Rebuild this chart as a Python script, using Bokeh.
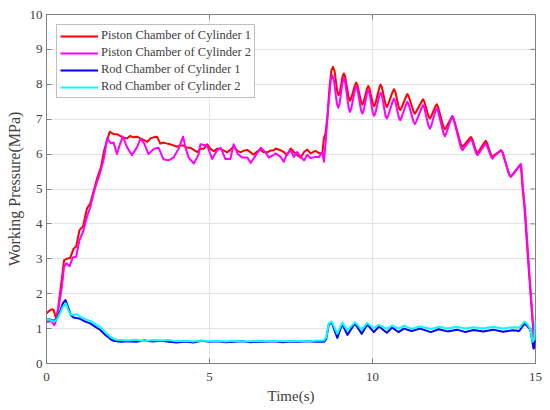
import math
from bokeh.plotting import figure
from bokeh.models import Range1d, FixedTicker
from bokeh.embed import file_html
from bokeh.resources import INLINE

# ---------------- data ----------------
x_ticks = [0, 5, 10, 15]
y_ticks = [0, 1, 2, 3, 4, 5, 6, 7, 8, 9, 10]

series_names = ["Piston Chamber of Cylinder 1", "Piston Chamber of Cylinder 2",
                "Rod Chamber of Cylinder 1", "Rod Chamber of Cylinder 2"]
series_colors = ["#FF0000", "#FF00FF", "#0000FF", "#00FFFF"]

t_p1 = [0.0, 0.05, 0.14, 0.21, 0.26, 0.30, 0.36, 0.42, 0.48, 0.54, 0.62, 0.73, 0.83, 0.91,
        1.01, 1.12, 1.24, 1.34, 1.47, 1.55, 1.67, 1.77, 1.86, 1.94, 2.06, 2.16, 2.26, 2.37,
        2.47, 2.56, 2.67, 2.78, 2.88, 2.99, 3.09, 3.19, 3.29, 3.39, 3.49, 3.60, 3.70, 3.80,
        3.90, 4.00, 4.10, 4.21, 4.31, 4.42, 4.52, 4.62, 4.72, 4.82, 4.93, 5.03, 5.13, 5.23,
        5.34, 5.44, 5.54, 5.64, 5.74, 5.85, 5.95, 6.05, 6.16, 6.26, 6.36, 6.46, 6.57, 6.67,
        6.77, 6.87, 6.97, 7.03, 7.18, 7.28, 7.38, 7.49, 7.59, 7.69, 7.80, 7.90, 8.00, 8.10,
        8.25, 8.36, 8.46, 8.51, 8.56, 8.62, 8.68,
        8.74, 8.79, 8.84, 8.92, 8.96, 9.00, 9.08, 9.12, 9.16, 9.27, 9.31, 9.35,
        9.46, 9.50, 9.54, 9.65, 9.69, 9.73, 9.83, 9.87, 9.91, 10.01, 10.05, 10.09,
        10.21, 10.25, 10.29, 10.40, 10.44, 10.48, 10.62, 10.66, 10.70, 10.81, 10.85, 10.89,
        11.03, 11.07, 11.11, 11.26, 11.30, 11.34, 11.51, 11.55, 11.59, 11.72, 11.76, 11.80,
        11.93, 11.97, 12.01, 12.18, 12.22, 12.26, 12.41, 12.45, 12.49, 12.71, 12.76, 12.81,
        12.97, 13.02, 13.06, 13.18, 13.22, 13.26, 13.43, 13.47, 13.51, 13.64, 13.68, 13.72,
        13.89, 13.94, 13.99, 14.19, 14.24, 14.29, 14.50, 14.55,
        14.60, 14.66, 14.80, 14.92, 14.96, 15.0]
v_p1 = [1.43, 1.48, 1.55, 1.55, 1.40, 1.29, 1.60, 2.05, 2.50, 2.96, 3.00, 3.03, 3.29, 3.35,
        3.82, 3.93, 4.44, 4.58, 5.02, 5.30, 5.63, 6.11, 6.40, 6.64, 6.57, 6.57, 6.52, 6.47,
        6.45, 6.52, 6.48, 6.50, 6.45, 6.40, 6.35, 6.45, 6.48, 6.50, 6.30, 6.33, 6.30, 6.28,
        6.25, 6.21, 6.25, 6.25, 6.18, 6.18, 6.12, 6.06, 6.15, 6.15, 6.28, 6.15, 6.08, 6.15,
        6.15, 6.10, 6.05, 6.12, 6.22, 6.10, 6.05, 6.10, 6.12, 6.05, 5.98, 6.08, 6.12, 6.05,
        6.05, 6.10, 6.11, 6.16, 6.11, 6.06, 5.97, 6.16, 6.06, 5.97, 5.90, 6.06, 6.13, 6.02,
        6.09, 6.03, 6.02, 6.45, 6.60, 7.10, 7.90,
        8.40, 8.50, 8.36, 7.78, 7.69, 7.78, 8.22, 8.31, 8.22, 7.62, 7.53, 7.61,
        7.97, 8.05, 7.97, 7.50, 7.42, 7.50, 7.87, 7.95, 7.87, 7.45, 7.37, 7.45,
        7.91, 7.99, 7.91, 7.43, 7.35, 7.43, 7.79, 7.86, 7.78, 7.33, 7.26, 7.33,
        7.65, 7.72, 7.65, 7.22, 7.16, 7.22, 7.51, 7.57, 7.50, 7.08, 7.02, 7.08,
        7.37, 7.43, 7.36, 6.77, 6.71, 6.76, 7.03, 7.09, 7.02, 6.28, 6.21, 6.26,
        6.44, 6.49, 6.43, 6.08, 6.03, 6.08, 6.33, 6.38, 6.32, 5.97, 5.92, 5.96,
        6.07, 6.11, 6.05, 5.42, 5.35, 5.40, 5.66, 5.71,
        5.06, 4.50, 2.60, 1.10, 0.45, 0.50]

t_p2 = [0.0, 0.14, 0.24, 0.32, 0.40, 0.47, 0.54, 0.61, 0.71, 0.81, 0.91, 1.01, 1.12, 1.24,
        1.34, 1.47, 1.57, 1.67, 1.77, 1.86, 1.90, 1.98, 2.06, 2.16, 2.26, 2.34, 2.47, 2.62,
        2.78, 2.88, 3.00, 3.13, 3.29, 3.44, 3.59, 3.74, 3.90, 4.05, 4.19, 4.26, 4.36, 4.52,
        4.67, 4.72, 4.93, 5.08, 5.23, 5.34, 5.49, 5.64, 5.74, 5.87, 6.00, 6.16, 6.26, 6.41,
        6.57, 6.72, 6.82, 6.97, 7.03, 7.18, 7.28, 7.38, 7.49, 7.59, 7.69, 7.80, 7.90, 8.00,
        8.10, 8.25, 8.36, 8.46, 8.51, 8.56, 8.64,
        8.72, 8.77, 8.82, 8.91, 8.95, 8.99, 9.08, 9.12, 9.16, 9.27, 9.31, 9.35,
        9.46, 9.50, 9.54, 9.65, 9.69, 9.73, 9.83, 9.87, 9.91, 10.01, 10.05, 10.09,
        10.21, 10.25, 10.29, 10.40, 10.44, 10.48, 10.62, 10.66, 10.70, 10.81, 10.85, 10.89,
        11.03, 11.07, 11.11, 11.26, 11.30, 11.34, 11.51, 11.55, 11.59, 11.72, 11.76, 11.80,
        11.93, 11.97, 12.01, 12.18, 12.22, 12.26, 12.41, 12.45, 12.49, 12.71, 12.76, 12.81,
        12.97, 13.02, 13.06, 13.18, 13.22, 13.26, 13.43, 13.47, 13.51, 13.64, 13.68, 13.72,
        13.89, 13.94, 13.99, 14.19, 14.24, 14.29, 14.51, 14.56,
        14.62, 14.68, 14.82, 14.94, 14.97, 15.0]
v_p2 = [1.19, 1.22, 1.10, 1.29, 1.77, 2.19, 2.77, 2.87, 2.79, 3.04, 3.06, 3.53, 3.77, 4.20,
        4.47, 4.96, 5.26, 5.54, 5.92, 6.45, 6.40, 6.31, 6.33, 6.00, 6.30, 6.50, 6.20, 5.97,
        6.20, 6.44, 6.30, 6.00, 6.15, 6.18, 5.85, 5.82, 5.90, 6.15, 6.50, 6.20, 5.90, 5.73,
        6.00, 6.28, 6.24, 5.86, 6.10, 6.18, 5.86, 5.86, 6.28, 6.00, 5.90, 5.90, 5.75, 5.95,
        6.18, 6.05, 5.90, 5.98, 6.02, 5.92, 5.78, 6.02, 6.11, 5.92, 6.06, 5.92, 5.82, 5.98,
        5.89, 5.92, 5.92, 6.06, 5.78, 6.30, 7.30,
        8.12, 8.26, 8.10, 7.44, 7.33, 7.44, 8.06, 8.17, 8.06, 7.32, 7.21, 7.31,
        7.84, 7.93, 7.84, 7.25, 7.16, 7.25, 7.75, 7.83, 7.75, 7.18, 7.10, 7.18,
        7.68, 7.76, 7.68, 7.10, 7.02, 7.10, 7.51, 7.59, 7.51, 7.04, 6.97, 7.04,
        7.43, 7.50, 7.42, 6.93, 6.86, 6.93, 7.33, 7.40, 7.32, 6.80, 6.73, 6.80,
        7.24, 7.31, 7.23, 6.59, 6.51, 6.59, 7.00, 7.07, 6.99, 6.19, 6.11, 6.18,
        6.37, 6.42, 6.36, 6.02, 5.97, 6.02, 6.25, 6.30, 6.24, 5.92, 5.87, 5.92,
        6.07, 6.11, 6.05, 5.42, 5.35, 5.40, 5.66, 5.71,
        5.00, 4.40, 2.50, 0.90, 0.45, 0.55]

t_r1 = [0.0, 0.11, 0.21, 0.32, 0.42, 0.50, 0.58, 0.65, 0.75, 0.83, 0.94, 1.03, 1.19, 1.34,
        1.50, 1.65, 1.80, 1.86, 1.96, 2.06, 2.27, 2.50, 2.75, 3.00, 3.25, 3.50, 3.75, 4.00,
        4.25, 4.50, 4.75, 5.00, 5.25, 5.50, 5.75, 6.00, 6.25, 6.50, 6.75, 7.00, 7.25, 7.50,
        7.75, 8.00, 8.25, 8.45, 8.51, 8.58, 8.66, 8.75, 8.92, 9.07, 9.23, 9.46, 9.67, 9.84,
        10.04, 10.20, 10.44, 10.60, 10.80, 10.96, 11.20, 11.46, 11.79, 12.03, 12.30, 12.60,
        12.85, 13.10, 13.40, 13.70, 14.00, 14.30, 14.50, 14.66, 14.72, 14.84, 14.94, 15.0]
v_r1 = [1.26, 1.26, 1.22, 1.28, 1.50, 1.72, 1.82, 1.65, 1.38, 1.32, 1.30, 1.28, 1.20, 1.15,
        1.05, 0.96, 0.82, 0.78, 0.70, 0.65, 0.62, 0.64, 0.62, 0.66, 0.63, 0.65, 0.62, 0.60,
        0.63, 0.60, 0.65, 0.62, 0.64, 0.61, 0.62, 0.64, 0.61, 0.63, 0.62, 0.64, 0.61, 0.63,
        0.62, 0.64, 0.62, 0.63, 0.62, 0.70, 1.12, 1.17, 0.73, 1.13, 0.82, 1.15, 0.85, 1.12,
        0.90, 1.06, 0.88, 1.03, 0.90, 1.00, 0.93, 1.00, 0.90, 0.98, 0.92, 0.97,
        0.90, 0.96, 0.92, 0.97, 0.91, 0.95, 0.93, 1.14, 1.10, 0.98, 0.43, 0.67]

t_r2 = [0.0, 0.11, 0.21, 0.32, 0.42, 0.50, 0.60, 0.68, 0.75, 0.83, 0.94, 1.03, 1.19, 1.34,
        1.50, 1.65, 1.80, 1.96, 2.06, 2.16, 2.27, 2.50, 2.75, 3.00, 3.25, 3.50, 3.75, 4.00,
        4.25, 4.50, 4.75, 5.00, 5.25, 5.50, 5.75, 6.00, 6.25, 6.50, 6.75, 7.00, 7.25, 7.50,
        7.75, 8.00, 8.25, 8.45, 8.51, 8.58, 8.66, 8.75, 8.92, 9.07, 9.23, 9.46, 9.67, 9.84,
        10.04, 10.20, 10.44, 10.60, 10.80, 10.96, 11.20, 11.46, 11.79, 12.03, 12.30, 12.60,
        12.85, 13.10, 13.40, 13.70, 14.00, 14.30, 14.50, 14.66, 14.72, 14.84, 14.91, 14.96, 15.0]
v_r2 = [1.26, 1.25, 1.20, 1.26, 1.45, 1.62, 1.72, 1.50, 1.40, 1.39, 1.41, 1.34, 1.27, 1.22,
        1.13, 1.05, 0.90, 0.76, 0.71, 0.67, 0.67, 0.66, 0.68, 0.64, 0.67, 0.66, 0.67, 0.64,
        0.65, 0.63, 0.66, 0.64, 0.65, 0.63, 0.65, 0.63, 0.64, 0.65, 0.63, 0.65, 0.64, 0.64,
        0.65, 0.63, 0.65, 0.66, 0.66, 0.74, 1.15, 1.20, 0.85, 1.17, 0.95, 1.18, 0.97, 1.16,
        1.01, 1.11, 0.99, 1.09, 1.00, 1.08, 1.00, 1.06, 0.99, 1.05, 1.00, 1.05,
        1.00, 1.04, 1.00, 1.05, 1.00, 1.04, 1.03, 1.20, 1.16, 1.00, 0.62, 0.70, 1.24]

x_label = "Time(s)"
y_label = "Working Pressure(MPa)"

# ---------------- figure ----------------
FONT = "Liberation Serif"
AXIS_GRAY = "#808080"
TEXT_GRAY = "#404040"

p = figure(width=546, height=406, output_backend="svg", toolbar_location=None,
           x_range=Range1d(x_ticks[0], x_ticks[-1]), y_range=Range1d(y_ticks[0], y_ticks[-1]),
           min_border_left=46, min_border_right=11, min_border_top=14, min_border_bottom=43,
           background_fill_color="white", border_fill_color="white")

p.outline_line_color = AXIS_GRAY
p.outline_line_width = 1

for ax in (p.xaxis[0], p.yaxis[0]):
    ax.major_tick_in = 5
    ax.major_tick_out = 0
    ax.minor_tick_line_color = None
    ax.axis_line_color = AXIS_GRAY
    ax.major_tick_line_color = AXIS_GRAY
    ax.major_label_text_font = FONT
    ax.major_label_text_font_size = "13px"
    ax.major_label_text_color = TEXT_GRAY
    ax.axis_label_text_font = FONT
    ax.axis_label_text_font_style = "normal"
    ax.axis_label_text_color = TEXT_GRAY

p.xaxis[0].ticker = FixedTicker(ticks=x_ticks)
p.yaxis[0].ticker = FixedTicker(ticks=y_ticks)
p.xaxis[0].axis_label = x_label
p.yaxis[0].axis_label = y_label
p.xaxis[0].axis_label_text_font_size = "15px"
p.yaxis[0].axis_label_text_font_size = "16px"
p.xaxis[0].major_label_standoff = 9
p.xaxis[0].axis_label_standoff = 4
p.yaxis[0].major_label_standoff = 4
p.yaxis[0].axis_label_standoff = 4

# mirrored inward ticks on top and right edges (box on)
p.ray(x=x_ticks, y=[y_ticks[-1]] * len(x_ticks), length=5, length_units="screen",
      angle=-math.pi / 2, line_color=AXIS_GRAY, line_width=1)
p.ray(x=[x_ticks[-1]] * len(y_ticks), y=y_ticks, length=5, length_units="screen",
      angle=math.pi, line_color=AXIS_GRAY, line_width=1)

p.xgrid.ticker = FixedTicker(ticks=x_ticks)
p.ygrid.ticker = FixedTicker(ticks=y_ticks)
p.xgrid.grid_line_color = "#e3e3e3"
p.ygrid.grid_line_color = "#e3e3e3"

data = [(t_p1, v_p1), (t_p2, v_p2), (t_r1, v_r1), (t_r2, v_r2)]
for (tt, vv), name, col in zip(data, series_names, series_colors):
    p.line(tt, vv, line_color=col, line_width=2, legend_label=name, line_join="round")

lg = p.legend[0]
lg.location = "top_left"
lg.margin = 10
lg.padding = 3
lg.spacing = 2
lg.glyph_width = 38
lg.glyph_height = 14
lg.label_height = 14
lg.label_standoff = 3
lg.label_text_font = FONT
lg.label_text_font_size = "12.5px"
lg.label_text_color = TEXT_GRAY
lg.border_line_color = AXIS_GRAY
lg.border_line_width = 1
lg.background_fill_color = "white"
lg.background_fill_alpha = 1.0

open("out.html", "w").write(file_html(p, INLINE))
